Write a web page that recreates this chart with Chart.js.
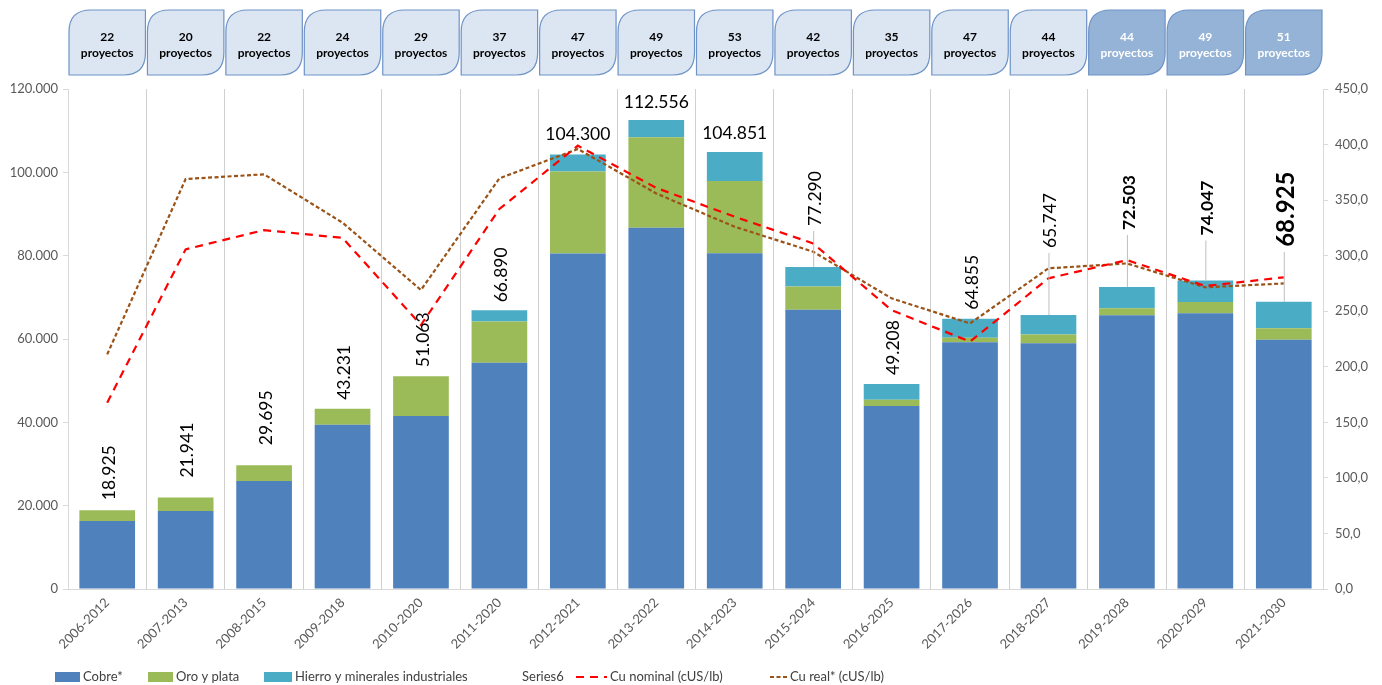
<!DOCTYPE html>
<html>
<head>
<meta charset="utf-8">
<script src="https://cdn.jsdelivr.net/npm/chart.js@4.4.1/dist/chart.umd.min.js"></script>
<style>
  html, body { margin: 0; padding: 0; background: #ffffff; }
  #wrap { width: 1382px; height: 685px; position: relative; }
</style>
</head>
<body>
<div id="wrap"><canvas id="cartera"></canvas></div>
<script>
// Períodos de la cartera de inversión
const periods = ['2006-2012', '2007-2013', '2008-2015', '2009-2018', '2010-2020', '2011-2020',
  '2012-2021', '2013-2022', '2014-2023', '2015-2024', '2016-2025', '2017-2026',
  '2018-2027', '2019-2028', '2020-2029', '2021-2030'];

// Número de proyectos por período
const projectCounts = [22, 20, 22, 24, 29, 37, 47, 49, 53, 42, 35, 47, 44, 44, 49, 51];

// Inversión por sector (MMUS$)
const cobre    = [16300, 18700, 25900, 39400, 41500, 54300, 80500, 86700, 80600, 67000, 43900, 59200, 59000, 65700, 66200, 59800];
const oroPlata = [2625, 3241, 3795, 3831, 9563, 9900, 19700, 21700, 17300, 5600, 1500, 1100, 2100, 1700, 2700, 2800];
const hierro   = [0, 0, 0, 0, 0, 2690, 4100, 4156, 6951, 4690, 3808, 4555, 4647, 5103, 5147, 6325];

// Precio del cobre (cUS/lb)
const cuNominal = [167.7, 305.7, 323.0, 316.0, 237.6, 342.0, 399.0, 361.0, 335.0, 311.0, 251.0, 222.6, 279.6, 296.0, 272.7, 280.5];
const cuReal    = [211.2, 369.0, 373.2, 329.7, 269.1, 369.6, 396.0, 356.0, 326.0, 303.6, 261.6, 239.0, 288.6, 293.0, 271.5, 275.0];

// Escalas
const leftMax = 120000, leftStep = 20000;
const rightMax = 450, rightStep = 50;

// Apariencia de las etiquetas de total (orientación, peso, tamaño, separación, guía)
const labelLook = [
  { rot: true,  bold: false, size: 17.5, gap: 10, leader: false },
  { rot: true,  bold: false, size: 17.5, gap: 20, leader: false },
  { rot: true,  bold: false, size: 17.5, gap: 20, leader: false },
  { rot: true,  bold: false, size: 17.5, gap: 9,  leader: false },
  { rot: true,  bold: false, size: 17.5, gap: 9,  leader: false },
  { rot: true,  bold: false, size: 17.5, gap: 8,  leader: false },
  { rot: false, bold: false, size: 17.5, gap: 20, leader: false },
  { rot: false, bold: false, size: 17.5, gap: 18, leader: false },
  { rot: false, bold: false, size: 17.5, gap: 19, leader: false },
  { rot: true,  bold: false, size: 17.5, gap: 41, leader: true },
  { rot: true,  bold: false, size: 17.5, gap: 9,  leader: false },
  { rot: true,  bold: false, size: 17.5, gap: 9,  leader: false },
  { rot: true,  bold: false, size: 17.5, gap: 67, leader: true },
  { rot: true,  bold: true,  size: 17.5, gap: 57, leader: true },
  { rot: true,  bold: true,  size: 17.5, gap: 45, leader: true },
  { rot: true,  bold: true,  size: 24,   gap: 55, leader: true }
];
const darkBoxFrom = 13;

const FONT = 'Lato, "Open Sans", "DejaVu Sans", sans-serif';

function thousands(v) {
  return String(Math.round(v)).replace(/\B(?=(\d{3})+(?!\d))/g, '.');
}

// Totales sobre cada columna
const totalLabels = {
  id: 'totalLabels',
  afterDatasetsDraw(chart) {
    const ctx = chart.ctx;
    const xs = chart.scales.x, ys = chart.scales.y;
    ctx.save();
    ctx.fillStyle = '#000000';
    periods.forEach((p, i) => {
      const total = cobre[i] + oroPlata[i] + hierro[i];
      const look = labelLook[i];
      const x = xs.getPixelForValue(i);
      const yTop = ys.getPixelForValue(total);
      ctx.font = (look.bold ? 'bold ' : '') + look.size + 'px ' + FONT;
      if (look.leader) {
        ctx.strokeStyle = '#bfbfbf';
        ctx.lineWidth = 1;
        ctx.beginPath();
        ctx.moveTo(x + 0.5, yTop - look.gap + 5);
        ctx.lineTo(x + 0.5, yTop);
        ctx.stroke();
      }
      if (look.rot) {
        ctx.save();
        ctx.translate(x + 2, yTop - look.gap);
        ctx.rotate(-Math.PI / 2);
        ctx.textAlign = 'left';
        ctx.textBaseline = 'middle';
        ctx.fillText(thousands(total), 0, 0);
        ctx.restore();
      } else {
        ctx.textAlign = 'center';
        ctx.textBaseline = 'middle';
        ctx.fillText(thousands(total), x, yTop - look.gap);
      }
    });
    ctx.restore();
  }
};

// Recuadros con el número de proyectos
const projectBoxes = {
  id: 'projectBoxes',
  afterDraw(chart) {
    const ctx = chart.ctx;
    const xs = chart.scales.x;
    const step = xs.width / periods.length;
    const w = step - 2, h = 65, top = 10, r = 22;
    ctx.save();
    projectCounts.forEach((n, i) => {
      const cx = xs.getPixelForValue(i);
      const l = cx - w / 2, t = top, rgt = cx + w / 2, b = top + h;
      const dark = i >= darkBoxFrom;
      ctx.beginPath();
      ctx.moveTo(l + r, t);
      ctx.lineTo(rgt, t);
      ctx.lineTo(rgt, b - r);
      ctx.quadraticCurveTo(rgt, b, rgt - r, b);
      ctx.lineTo(l, b);
      ctx.lineTo(l, t + r);
      ctx.quadraticCurveTo(l, t, l + r, t);
      ctx.closePath();
      ctx.fillStyle = dark ? '#95b3d7' : '#dce6f2';
      ctx.fill();
      ctx.strokeStyle = '#6d93c7';
      ctx.lineWidth = 1.2;
      ctx.stroke();
      ctx.fillStyle = dark ? '#ffffff' : '#000000';
      ctx.font = 'bold 12px ' + FONT;
      ctx.textAlign = 'center';
      ctx.textBaseline = 'middle';
      ctx.fillText(String(n), cx, t + 27);
      ctx.fillText('proyectos', cx, t + 43);
    });
    ctx.restore();
  }
};

// Leyenda inferior
const legendSpots = [
  { x: 55,  w: 25 },
  { x: 148, w: 25 },
  { x: 264, w: 28 },
  { x: 522, w: 0 },
  { x: 576, w: 31 },
  { x: 770, w: 17 }
];
const bottomLegend = {
  id: 'bottomLegend',
  afterDraw(chart) {
    const ctx = chart.ctx;
    const y = 677;
    ctx.save();
    ctx.font = '13px ' + FONT;
    ctx.textBaseline = 'middle';
    ctx.textAlign = 'left';
    chart.data.datasets.forEach((ds, i) => {
      const s = legendSpots[i];
      if (s.w > 0) {
        if (ds.type === 'line') {
          ctx.strokeStyle = ds.borderColor;
          ctx.lineWidth = ds.borderWidth;
          ctx.setLineDash(ds.borderDash || []);
          ctx.beginPath();
          ctx.moveTo(s.x, y);
          ctx.lineTo(s.x + s.w, y);
          ctx.stroke();
          ctx.setLineDash([]);
        } else {
          ctx.fillStyle = ds.backgroundColor;
          ctx.fillRect(s.x, y - 5, s.w, 10);
        }
      }
      ctx.fillStyle = '#404040';
      ctx.fillText(ds.label, s.x + s.w + (s.w ? 3 : 0), y);
    });
    ctx.restore();
  }
};

const tickFont = { family: FONT, size: 13 };

new Chart(document.getElementById('cartera'), {
  data: {
    labels: periods,
    datasets: [
      { type: 'bar', label: 'Cobre*', data: cobre, backgroundColor: '#4f81bd', yAxisID: 'y', stack: 's', order: 2,
        barPercentage: 0.71, categoryPercentage: 1 },
      { type: 'bar', label: 'Oro y plata', data: oroPlata, backgroundColor: '#9bbb59', yAxisID: 'y', stack: 's', order: 2,
        barPercentage: 0.71, categoryPercentage: 1 },
      { type: 'bar', label: 'Hierro y minerales industriales', data: hierro, backgroundColor: '#4bacc6', yAxisID: 'y', stack: 's', order: 2,
        barPercentage: 0.71, categoryPercentage: 1 },
      { type: 'line', label: 'Series6', data: [], borderColor: 'rgba(0,0,0,0)', borderWidth: 0, yAxisID: 'y1', order: 1, pointRadius: 0 },
      { type: 'line', label: 'Cu nominal (cUS/lb)', data: cuNominal, borderColor: '#ff0000', borderWidth: 2.2,
        borderDash: [8, 6], yAxisID: 'y1', order: 1, pointRadius: 0, tension: 0, fill: false },
      { type: 'line', label: 'Cu real* (cUS/lb)', data: cuReal, borderColor: '#9a5216', borderWidth: 2.2,
        borderDash: [4, 2.5], yAxisID: 'y1', order: 1, pointRadius: 0, tension: 0, fill: false }
    ]
  },
  options: {
    responsive: true,
    maintainAspectRatio: false,
    animation: false,
    devicePixelRatio: 1,
    layout: { padding: { top: 89, left: 0, right: 0, bottom: 0 } },
    plugins: { legend: { display: false }, tooltip: { enabled: false } },
    scales: {
      x: {
        stacked: true,
        offset: true,
        grid: { color: '#d0d0d0', drawTicks: false, offset: true },
        border: { color: '#d9d9d9' },
        ticks: { maxRotation: 45, minRotation: 45, autoSkip: false, color: '#595959', font: tickFont, padding: 6 },
        afterFit(s) { s.height = 96; }
      },
      y: {
        stacked: true,
        position: 'left',
        min: 0, max: leftMax,
        ticks: { stepSize: leftStep, color: '#595959', font: tickFont, padding: 5, callback: v => thousands(v) },
        grid: { drawOnChartArea: false, color: '#d9d9d9', tickLength: 5 },
        border: { color: '#d9d9d9' },
        afterFit(s) { s.width = 68; }
      },
      y1: {
        position: 'right',
        min: 0, max: rightMax,
        ticks: { stepSize: rightStep, color: '#595959', font: tickFont, padding: 7, callback: v => v.toFixed(1).replace('.', ',') },
        grid: { drawOnChartArea: false, color: '#d9d9d9', tickLength: 5 },
        border: { color: '#d9d9d9' },
        afterFit(s) { s.width = 59; }
      }
    }
  },
  plugins: [totalLabels, projectBoxes, bottomLegend]
});
</script>
</body>
</html>
